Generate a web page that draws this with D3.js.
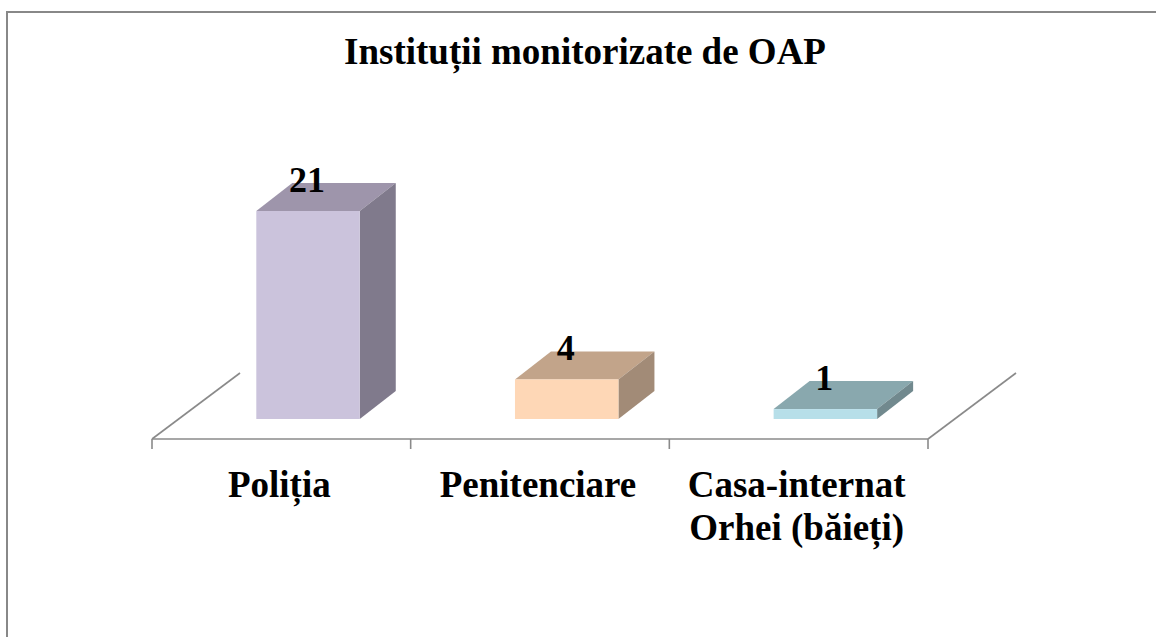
<!DOCTYPE html>
<html>
<head>
<meta charset="utf-8">
<script src="https://cdn.jsdelivr.net/npm/d3@7"></script>
<style>
  html, body { margin: 0; padding: 0; background: #fff; }
  svg { display: block; }
  text { font-family: "Liberation Serif", "Times New Roman", serif; font-weight: bold; fill: #000; }
</style>
</head>
<body>
<svg id="chart" width="1156" height="637"></svg>
<script>
// ---- data ----
const title = "Instituții monitorizate de OAP";
const categories = ["Poliția", "Penitenciare", "Casa-internat\nOrhei (băieți)"];
const values = [21, 4, 1];
const frontColors = ["#CBC3DC", "#FED7B6", "#B7DFE9"];
const topColors = ["#9E95AB", "#C2A48A", "#89A8AE"];
const sideColors = ["#807A8C", "#A28B77", "#71898E"];

// ---- layout ----
const svg = d3.select("#chart");
const W = 1156, H = 637;

// outer border (cut off at right/bottom)
svg.append("rect")
  .attr("x", 7).attr("y", 12)
  .attr("width", W + 20).attr("height", H + 20)
  .attr("fill", "none").attr("stroke", "#888").attr("stroke-width", 2);

svg.append("text")
  .attr("x", 585).attr("y", 64)
  .attr("text-anchor", "middle")
  .attr("font-size", 37)
  .text(title);

const floorY = 439;
const depth = { dx: 88, dy: -66 };          // floor depth vector
const barOff = { dx: 26.7, dy: -20 };       // bar front offset from floor front
const barDepth = { dx: 36, dy: -28 };       // bar thickness in depth

const x = d3.scaleBand().domain(categories).range([152, 928]).padding(0);
const y = d3.scaleLinear().domain([0, 21]).range([floorY, floorY - 208]);

// floor
const floor = svg.append("g").attr("stroke", "#8a8a8a").attr("stroke-width", 1.6).attr("fill", "none");
const x0 = x.range()[0], x1 = x.range()[1];
floor.append("line").attr("x1", x0).attr("y1", floorY).attr("x2", x1).attr("y2", floorY);
floor.append("line").attr("x1", x0).attr("y1", floorY).attr("x2", x0 + depth.dx).attr("y2", floorY + depth.dy);
floor.append("line").attr("x1", x1).attr("y1", floorY).attr("x2", x1 + depth.dx).attr("y2", floorY + depth.dy);
const tickPos = categories.map(c => x(c)).concat([x1]);
floor.selectAll("line.tick").data(tickPos).join("line").attr("class", "tick")
  .attr("x1", d => d).attr("x2", d => d).attr("y1", floorY).attr("y2", floorY + 10);

// bars
const bw = x.bandwidth() * 0.4;
const bars = svg.append("g");
categories.forEach((c, i) => {
  const cx = x(c) + x.bandwidth() / 2 + barOff.dx;
  const l = cx - bw / 2, r = cx + bw / 2;
  const yb = y(0) + barOff.dy, yt = y(values[i]) + barOff.dy;
  const g = bars.append("g");
  g.append("polygon")
    .attr("points", [[l, yt], [r, yt], [r + barDepth.dx, yt + barDepth.dy], [l + barDepth.dx, yt + barDepth.dy]].map(p => p.join(",")).join(" "))
    .attr("fill", topColors[i]);
  g.append("polygon")
    .attr("points", [[r, yt], [r + barDepth.dx, yt + barDepth.dy], [r + barDepth.dx, yb + barDepth.dy], [r, yb]].map(p => p.join(",")).join(" "))
    .attr("fill", sideColors[i]);
  g.append("rect")
    .attr("x", l).attr("y", yt).attr("width", bw).attr("height", yb - yt)
    .attr("fill", frontColors[i]);
  g.append("text")
    .attr("x", cx - 1).attr("y", yt - 19)
    .attr("text-anchor", "middle")
    .attr("font-size", 36)
    .text(values[i]);
});

// category labels
const labels = svg.append("g");
categories.forEach((c, i) => {
  const lines = c.split("\n");
  const t = labels.append("text")
    .attr("x", x(c) + x.bandwidth() / 2 - 2)
    .attr("y", 497)
    .attr("text-anchor", "middle")
    .attr("font-size", 37);
  lines.forEach((ln, k) => {
    t.append("tspan").attr("x", x(c) + x.bandwidth() / 2 - 2).attr("y", 497 + k * 43).text(ln);
  });
});
</script>
</body>
</html>
